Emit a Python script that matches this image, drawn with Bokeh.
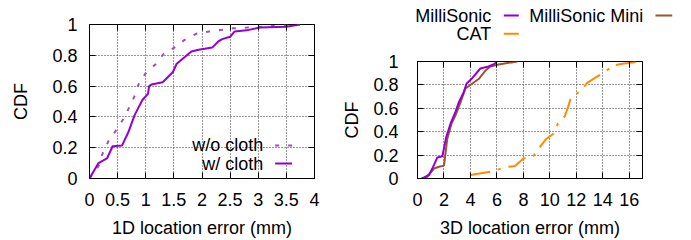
from bokeh.plotting import figure
from bokeh.layouts import row, column
from bokeh.models import FixedTicker, LinearAxis
from bokeh.core.properties import value
from bokeh.embed import file_html
from bokeh.resources import INLINE

# ---------------- data ----------------
# left panel: 1D location error CDF
wo_cloth_x = [0, 0.16, 0.23, 0.34, 0.46, 0.59, 0.69, 0.795, 0.87, 0.99, 1.17, 1.32, 1.51, 1.69, 1.90, 2.13, 2.36, 2.53, 2.8, 3.27, 3.74]
wo_cloth_y = [0, 0.08, 0.16, 0.245, 0.306, 0.38, 0.45, 0.53, 0.61, 0.68, 0.74, 0.81, 0.85, 0.90, 0.94, 0.955, 0.966, 0.975, 0.98, 0.99, 1.0]
w_cloth_x = [0, 0.16, 0.31, 0.40, 0.41, 0.58, 0.69, 0.80, 0.87, 0.94, 1.04, 1.06, 1.10, 1.30, 1.48, 1.55, 1.70, 1.81, 1.94, 2.18, 2.29, 2.36, 2.50, 2.58, 2.83, 3.03, 3.5, 3.74]
w_cloth_y = [0, 0.10, 0.13, 0.20, 0.21, 0.215, 0.30, 0.41, 0.46, 0.51, 0.55, 0.60, 0.61, 0.625, 0.69, 0.745, 0.79, 0.825, 0.836, 0.85, 0.89, 0.905, 0.92, 0.955, 0.965, 0.98, 0.985, 1.0]

# right panel: 3D location error CDF
millisonic_x = [0.3, 0.50, 0.87, 1.12, 1.50, 1.88, 2.17, 2.50, 2.87, 3.12, 3.50, 3.70, 4.07, 4.75, 5.37, 5.82, 6.0]
millisonic_y = [0.0, 0.01, 0.03, 0.085, 0.18, 0.19, 0.355, 0.47, 0.57, 0.65, 0.74, 0.81, 0.85, 0.94, 0.957, 0.98, 1.0]
mini_x = [0.6, 0.72, 1.25, 1.62, 2.0, 2.25, 2.57, 2.87, 3.25, 3.62, 4.12, 4.62, 5.12, 5.50, 6.12, 7.55]
mini_y = [0.0, 0.015, 0.085, 0.10, 0.11, 0.34, 0.47, 0.54, 0.65, 0.77, 0.81, 0.85, 0.92, 0.957, 0.975, 1.0]
cat_x = [4.0, 5.75, 6.5, 7.37, 8.0, 8.75, 9.12, 9.25, 9.75, 10.25, 10.62, 11.12, 11.37, 11.62, 12.38, 12.8, 13.5, 14.25, 14.75, 15.5, 16.5, 16.9]
cat_y = [0.03, 0.062, 0.094, 0.107, 0.17, 0.19, 0.256, 0.27, 0.34, 0.38, 0.47, 0.53, 0.61, 0.70, 0.75, 0.815, 0.866, 0.917, 0.966, 0.98, 0.995, 1.0]

left_xticks = [0, 0.5, 1, 1.5, 2, 2.5, 3, 3.5, 4]
left_xlabels = ["0", "0.5", "1", "1.5", "2", "2.5", "3", "3.5", "4"]
right_xticks = [0, 2, 4, 6, 8, 10, 12, 14, 16]
right_xlabels = ["0", "2", "4", "6", "8", "10", "12", "14", "16"]
yticks = [0, 0.2, 0.4, 0.6, 0.8, 1.0]
ylabels = ["0", "0.2", "0.4", "0.6", "0.8", "1"]

left_series = ["w/o cloth", "w/ cloth"]
right_series = ["MilliSonic", "MilliSonic Mini", "CAT"]

PURPLE = "#9400d3"
PURPLE_LIGHT = "#a04cc0"
BROWN = "#a0522d"
ORANGE = "#ff8c00"
FONT = "Liberation Sans"
FS = "18px"


def style(p, xticks, xlabels, ylab_standoff, ytick_standoff, xlabel):
    p.xaxis.ticker = FixedTicker(ticks=xticks)
    p.yaxis.ticker = FixedTicker(ticks=yticks)
    p.xaxis.major_label_overrides = {t: l for t, l in zip(xticks, xlabels)}
    p.yaxis.major_label_overrides = {t: l for t, l in zip(yticks, ylabels)}
    p.xaxis.axis_label = xlabel
    p.yaxis.axis_label = "CDF"
    for ax in (p.xaxis[0], p.yaxis[0]):
        ax.axis_label_text_font = FONT
        ax.axis_label_text_font_size = FS
        ax.axis_label_text_font_style = "normal"
        ax.axis_label_text_color = "black"
        ax.major_label_text_font = FONT
        ax.major_label_text_font_size = FS
        ax.major_label_text_color = "black"
        ax.major_tick_in = 6
        ax.major_tick_out = 0
        ax.minor_tick_in = 0
        ax.minor_tick_out = 0
        ax.axis_line_color = "black"
        ax.major_tick_line_color = "black"
    p.yaxis.major_label_standoff = ytick_standoff
    p.yaxis.axis_label_standoff = ylab_standoff
    p.xaxis.major_label_standoff = 14
    p.xaxis.axis_label_standoff = 9
    # mirrored ticks (no labels drawn)
    top = LinearAxis(ticker=FixedTicker(ticks=xticks), major_label_text_font_size="1px",
                     major_label_text_color=None,
                     major_tick_in=6, major_tick_out=0, minor_tick_in=0, minor_tick_out=0,
                     axis_line_color=None, major_tick_line_color="black", major_label_standoff=0)
    right = LinearAxis(ticker=FixedTicker(ticks=yticks), major_label_text_font_size="1px",
                       major_label_text_color=None,
                       major_tick_in=6, major_tick_out=0, minor_tick_in=0, minor_tick_out=0,
                       axis_line_color=None, major_tick_line_color="black", major_label_standoff=0)
    p.add_layout(top, "above")
    p.add_layout(right, "right")
    p.grid.grid_line_color = "#333333"
    p.grid.grid_line_dash = "1 2"
    p.grid.grid_line_width = 1
    p.outline_line_color = "black"
    p.outline_line_alpha = 1
    p.background_fill_color = "white"
    p.border_fill_color = "white"


# ---------------- left figure ----------------
p1 = figure(width=335, height=240, x_range=(0, 4), y_range=(0, 1),
            output_backend="svg", toolbar_location=None,
            min_border_left=89, min_border_right=21, min_border_top=24, min_border_bottom=62)
style(p1, left_xticks, left_xlabels, 18, 12, "1D location error (mm)")
p1.line(wo_cloth_x, wo_cloth_y, line_color=PURPLE_LIGHT, line_width=2, line_dash="4 9")
p1.line(w_cloth_x, w_cloth_y, line_color=PURPLE, line_width=2)
# key
p1.text(x=[3.09, 3.09], y=[0.215, 0.097], text=left_series, text_align="right",
        text_baseline="middle", text_font=value(FONT), text_font_size=FS, text_color="black")
p1.segment(x0=[3.30], y0=[0.215], x1=[3.60], y1=[0.215], line_color=PURPLE_LIGHT,
           line_width=2, line_dash="4 9")
p1.segment(x0=[3.30], y0=[0.097], x1=[3.60], y1=[0.097], line_color=PURPLE, line_width=2)

# ---------------- right key strip (screen-pixel coordinates) ----------------
leg = figure(width=346, height=53, x_range=(0, 346), y_range=(0, 53),
             output_backend="svg", toolbar_location=None, min_border=0)
leg.axis.visible = False
leg.grid.visible = False
leg.outline_line_color = None
leg.text(x=[155.7, 307.7, 155.7], y=[38, 38, 19.7], text=right_series, text_align="right",
         text_baseline="middle", text_font=value(FONT), text_font_size=FS, text_color="black")
leg.segment(x0=[168.3, 320.0, 168.3], y0=[38, 38, 19.7], x1=[183.3, 336.7, 183.3], y1=[38, 38, 19.7],
            line_color=[PURPLE, BROWN, ORANGE], line_width=2)

# ---------------- right figure ----------------
p2 = figure(width=346, height=187, x_range=(0, 17), y_range=(0, 1),
            output_backend="svg", toolbar_location=None,
            min_border_left=82, min_border_right=39, min_border_top=8, min_border_bottom=62)
style(p2, right_xticks, right_xlabels, 8, 19, "3D location error (mm)")
p2.line(cat_x, cat_y, line_color=ORANGE, line_width=2, line_dash="20 8 3 8")
p2.line(mini_x, mini_y, line_color=BROWN, line_width=2)
p2.line(millisonic_x, millisonic_y, line_color=PURPLE, line_width=2)

layout = row(p1, column(row(leg), row(p2)))
open("out.html", "w").write(file_html(layout, INLINE))
